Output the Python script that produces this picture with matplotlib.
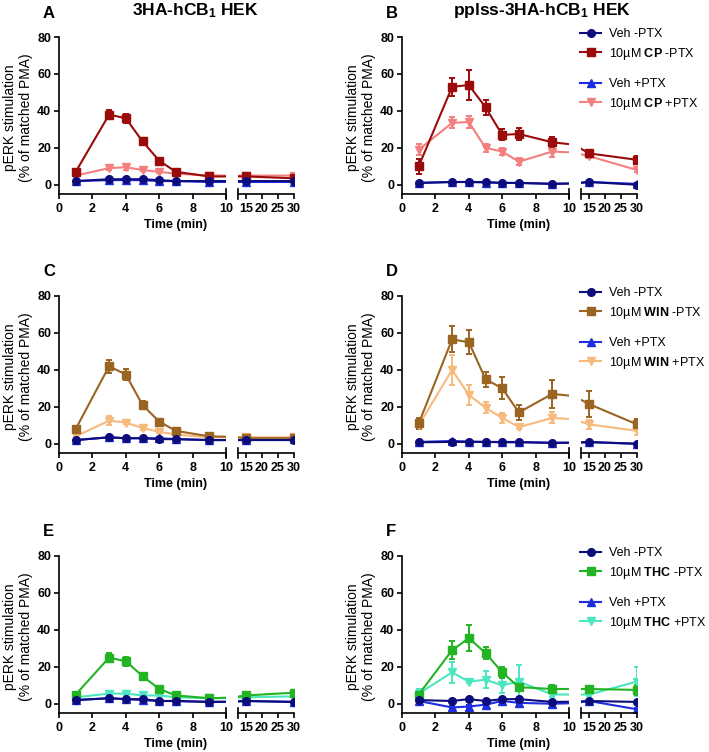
import numpy as np
import matplotlib.pyplot as plt
from matplotlib.lines import Line2D

plt.rcParams['font.family'] = ['Liberation Sans', 'DejaVu Sans']
plt.rcParams['mathtext.fontset'] = 'custom'
plt.rcParams['mathtext.rm'] = 'Liberation Sans'
plt.rcParams['mathtext.bf'] = 'Liberation Sans:bold'
plt.rcParams['mathtext.it'] = 'Liberation Sans:italic'

W, H = 709, 752

times = [1, 3, 4, 5, 6, 7, 9, 15, 30]

# A: 3HA-hCB1 HEK, CP
a_veh_m = [2, 3, 3, 3, 2.5, 2, 2, 2, 2]
a_veh_p = [2, 2.5, 2.5, 2.5, 2, 2, 1.5, 1.5, 1.5]
a_ag_m = [7, 38, 36, 23.5, 13, 7, 4.5, 4.5, 3.5]
a_ag_p = [5, 9, 9.5, 8, 7, 6, 5, 5, 5]
a_ag_m_err = [1, 2.5, 2.5, 1.5, 1, 1, 0.8, 0.8, 0.8]
a_ag_p_err = [0.8, 1, 1.5, 0.8, 0.8, 0.8, 0.5, 0.5, 0.8]

# B: pplss-3HA-hCB1 HEK, CP
b_veh_m = [1, 1.5, 1.5, 1.5, 1, 1, 0.5, 1.5, 0]
b_veh_p = [1, 1.5, 1.5, 1.2, 1, 1, 0.5, 1.5, 0.5]
b_ag_m = [10, 53, 54, 42, 27, 27.5, 23, 17, 13.5]
b_ag_p = [19, 33.5, 34, 20, 18, 12.5, 18, 15.5, 8]
b_ag_m_err = [4, 5, 8, 4, 3, 3, 3, 2, 2]
b_ag_p_err = [3, 3, 3, 2, 2, 2, 3, 1, 1]

# C: 3HA-hCB1 HEK, WIN
c_veh_m = [2, 3.5, 3, 3, 2.5, 2.5, 2, 2, 2]
c_veh_p = [2, 3.5, 3, 3, 3, 2.5, 2, 2, 2.5]
c_ag_m = [8, 42, 37.5, 21, 12, 7, 4, 3, 3]
c_ag_p = [4, 12.5, 11.5, 8.5, 6.5, 5, 3.5, 3.5, 3.5]
c_ag_m_err = [1, 3.5, 3, 2, 1, 1, 0.8, 0.8, 0.8]
c_ag_p_err = [0.8, 2.5, 1, 0.8, 0.8, 0.5, 0.5, 0.8, 0.8]

# D: pplss-3HA-hCB1 HEK, WIN
d_veh_m = [0.8, 1, 1, 1, 0.8, 0.8, 0.5, 1, 0]
d_veh_p = [1, 1.5, 1.2, 1, 1, 1, 0.5, 0.8, 0]
d_ag_m = [11, 56.5, 55, 35, 30, 17, 27, 21.5, 10.5]
d_ag_p = [10, 40, 26.5, 19.5, 14, 9, 14, 10.5, 7]
d_ag_m_err = [3, 7, 6.5, 4, 6, 4, 7.5, 7, 3]
d_ag_p_err = [2, 8, 5.5, 3, 2.5, 1, 3, 2.5, 2]

# E: 3HA-hCB1 HEK, THC
e_veh_m = [2, 3, 2.5, 2.5, 1.5, 1.5, 1, 1.5, 1]
e_veh_p = [2, 3, 2.5, 2, 1.5, 1.5, 1, 1.5, 1]
e_ag_m = [5, 25, 23, 15, 8, 4.5, 3, 4.5, 6]
e_ag_p = [3.5, 5.5, 5.5, 4.5, 4.5, 3.5, 3, 3.5, 4]
e_ag_m_err = [1, 2.5, 2.5, 1.5, 1, 0.8, 0.8, 0.8, 1]
e_ag_p_err = [0.5, 1, 1, 0.5, 0.5, 0.5, 0.5, 0.5, 0.5]

# F: pplss-3HA-hCB1 HEK, THC
f_veh_m = [2, 1.5, 2.5, 1.5, 2.5, 2.5, 1, 1.5, 1]
f_veh_p = [1.5, -2, -1.5, -0.5, 1.5, 0.5, 0, 1.5, -3]
f_ag_m = [5, 29, 35.5, 27.5, 17, 9, 8, 8, 7.5]
f_ag_p = [5.5, 17, 12, 13, 10, 12, 5, 5, 12]
f_ag_m_err = [1, 5, 7, 3.5, 3, 1.5, 2, 1.5, 2.5]
f_ag_p_err = [2.5, 5.5, 1, 4.5, 4, 9, 1.5, 1, 8]

veh_colors = ['#0c0c7c', '#1f2de0']
cp_colors = ['#9c0b0b', '#f47f7f']
win_colors = ['#9a6422', '#f7b97c']
thc_colors = ['#22b422', '#4ce6c0']

y_ticks = [0, 20, 40, 60, 80]
x1_ticks = [0, 2, 4, 6, 8, 10]
x2_ticks = [15, 20, 25, 30]
ylabel = 'pERK stimulation\n(% of matched PMA)'

fig = plt.figure(figsize=(W / 100, H / 100), dpi=100)


def bold_ticks(ax):
    for lbl in ax.get_xticklabels() + ax.get_yticklabels():
        lbl.set_fontweight('bold')


def panel(left, top, veh_m, veh_p, ag_m, ag_p, ag_m_err, ag_p_err, colors, drug, letter, legend):
    hgt = 157
    ax1 = fig.add_axes([left / W, 1 - (top + hgt) / H, 167 / W, hgt / H])
    ax2 = fig.add_axes([(left + 179) / W, 1 - (top + hgt) / H, 56 / W, hgt / H])
    small = [0.6] * len(times)
    series = [
        (ag_p, ag_p_err, colors[1], 'v'),
        (veh_p, small, veh_colors[1], '^'),
        (ag_m, ag_m_err, colors[0], 's'),
        (veh_m, small, veh_colors[0], 'o'),
    ]
    for ax in (ax1, ax2):
        for vals, err, c, m in series:
            ax.errorbar(times, vals, yerr=err, color=c, marker=m, ms=5.5, lw=1.5,
                        elinewidth=1.4, capsize=2.5, capthick=1.4)
        ax.set_ylim(-5, 80)
        for s in ('top', 'right'):
            ax.spines[s].set_visible(False)
        ax.spines['bottom'].set_linewidth(1.2)
        ax.spines['left'].set_linewidth(1.2)
        ax.tick_params(width=1.2, length=3.5, labelsize=9, pad=2)
        ax.tick_params(axis='x', pad=3)
    ax1.set_xlim(0, 10)
    ax1.set_xticks(x1_ticks)
    ax1.set_yticks(y_ticks)
    ax2.set_xlim(12.5, 30)
    ax2.set_xticks(x2_ticks)
    ax2.spines['left'].set_visible(False)
    ax2.set_yticks([])
    bold_ticks(ax1)
    bold_ticks(ax2)
    # axis break marks
    ax1.plot([1, 1], [-0.035, 0.035], transform=ax1.transAxes, clip_on=False, color='k', lw=1.2)
    ax2.plot([0, 0], [-0.035, 0.035], transform=ax2.transAxes, clip_on=False, color='k', lw=1.2)

    fig.text((left - 41) / W, 1 - (top + 81) / H, ylabel, rotation=90, ha='center', va='center',
             multialignment='center', fontsize=10)
    fig.text((left + 117) / W, 1 - (top + hgt + 31) / H, 'Time (min)', ha='center', va='center',
             fontsize=9, fontweight='bold')
    fig.text((left - 16) / W, 1 - (top - 24) / H, letter, ha='left', va='center',
             fontsize=12, fontweight='bold')

    if legend:
        labels = ['Veh -PTX', '10µM $\\bf{%s}$ -PTX' % drug, 'Veh +PTX', '10µM $\\bf{%s}$ +PTX' % drug]
        handles = [Line2D([], [], color=c, marker=m, ms=5.5, lw=1.5)
                   for c, m in [(veh_colors[0], 'o'), (colors[0], 's'), (veh_colors[1], '^'), (colors[1], 'v')]]
        for k, dy in ((0, -9), (2, 41)):
            fig.legend(handles=handles[k:k + 2], labels=labels[k:k + 2], loc='upper left',
                       bbox_to_anchor=((left + 178) / W, 1 - (top + dy) / H),
                       frameon=False, fontsize=9, handlelength=1.7, handletextpad=0.6,
                       labelspacing=0.45, borderpad=0, borderaxespad=0)


panel(59, 37, a_veh_m, a_veh_p, a_ag_m, a_ag_p, a_ag_m_err, a_ag_p_err, cp_colors, 'CP', 'A', False)
panel(402, 37, b_veh_m, b_veh_p, b_ag_m, b_ag_p, b_ag_m_err, b_ag_p_err, cp_colors, 'CP', 'B', True)
panel(59, 296, c_veh_m, c_veh_p, c_ag_m, c_ag_p, c_ag_m_err, c_ag_p_err, win_colors, 'WIN', 'C', False)
panel(402, 296, d_veh_m, d_veh_p, d_ag_m, d_ag_p, d_ag_m_err, d_ag_p_err, win_colors, 'WIN', 'D', True)
panel(59, 556, e_veh_m, e_veh_p, e_ag_m, e_ag_p, e_ag_m_err, e_ag_p_err, thc_colors, 'THC', 'E', False)
panel(402, 556, f_veh_m, f_veh_p, f_ag_m, f_ag_p, f_ag_m_err, f_ag_p_err, thc_colors, 'THC', 'F', True)

fig.text(195 / W, 1 - 11 / H, '3HA-hCB$_\\mathbf{1}$ HEK', ha='center', va='center',
         fontsize=12.5, fontweight='bold')
fig.text(542 / W, 1 - 11 / H, 'pplss-3HA-hCB$_\\mathbf{1}$ HEK', ha='center', va='center',
         fontsize=12.5, fontweight='bold')

fig.savefig('out.png', dpi=100)
